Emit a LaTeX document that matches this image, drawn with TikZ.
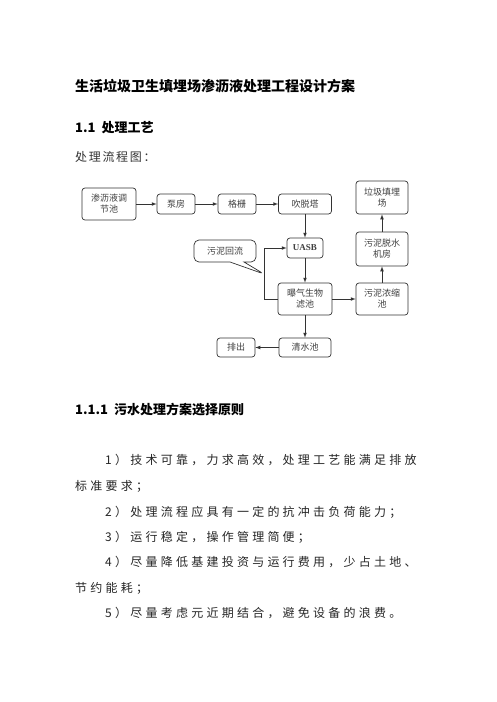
\documentclass[tikz,border=0pt]{standalone}
\usepackage{fontspec}
\setmainfont{Liberation Serif}
\newfontfamily\cjk{Noto Sans CJK SC}
\newfontfamily\cjkwide{Noto Sans CJK SC}[LetterSpace=27]
\newfontfamily\cjkcap{Noto Sans CJK SC}[LetterSpace=14]
\usetikzlibrary{shapes.callouts}

\tikzset{
    box/.style={draw=black!80, rounded corners=3pt, inner sep=0pt, align=center,
        font=\cjk\fontsize{9}{11}\selectfont, text=black!75, line width=0.7pt},
    flow/.style={-latex, draw=black!80, line width=0.7pt},
    heading/.style={anchor=west, inner sep=0pt, font=\cjk\bfseries\fontsize{13}{15}\selectfont},
    bodyline/.style={anchor=west, inner sep=0pt, font=\cjkwide\fontsize{12}{14}\selectfont, text=black!85}
}

\begin{document}
\begin{tikzpicture}[x=1pt, y=-1pt]
            \useasboundingbox (0,0) rectangle (496,702);
            \fill[white] (0,0) rectangle (496,702);

            % headings
            \node[heading, font=\cjk\bfseries\fontsize{14}{16}\selectfont] (title) at (75,86){生活垃圾卫生填埋场渗沥液处理工程设计方案};
            \node[heading] (sec) at (75,128){1.1\ \ 处理工艺};
            \node[anchor=west, inner sep=0pt, font=\cjkcap\fontsize{12}{14}\selectfont, text=black!80] (caption) at (75,157){处理流程图：};

            % flow chart boxes
            \node[box, minimum width=54pt, minimum height=32pt] (tank) at (109,204){渗沥液调\\节池};
            \node[box, minimum width=38pt, minimum height=20pt] (pump) at (176,204){泵房};
            \node[box, minimum width=38pt, minimum height=20pt] (screen) at (237,204){格栅};
            \node[box, minimum width=53pt, minimum height=20pt] (strip) at (305,204){吹脱塔};
            \node[box, minimum width=52pt, minimum height=33pt] (landfill) at (382,197.5){垃圾填埋\\场};
            \node[box, minimum width=36pt, minimum height=20pt, font=\bfseries\fontsize{9}{11}\selectfont] (uasb) at (305,248){UASB};
            \node[box, minimum width=52pt, minimum height=34pt] (dewater) at (382,249){污泥脱水\\机房};
            \node[box, minimum width=54pt, minimum height=32pt] (bio) at (305,299){曝气生物\\滤池};
            \node[box, minimum width=52pt, minimum height=32pt] (thicken) at (382,299){污泥浓缩\\池};
            \node[box, minimum width=52pt, minimum height=19pt] (clear) at (305,347.5){清水池};
            \node[box, minimum width=38pt, minimum height=19pt] (outlet) at (236,347.5){排出};

            % sludge return note
            \coordinate (tip) at (264,274);
            \node[rectangle callout, draw=black!80, rounded corners=5pt, line width=0.7pt,
                callout absolute pointer=(tip), callout pointer width=14pt,
                minimum width=62pt, minimum height=22pt, inner sep=0pt,
                font=\cjk\fontsize{9}{11}\selectfont, text=black!75] (note) at (225,251){污泥回流};

            \draw[flow] (tank) -- (pump);
            \draw[flow] (pump) -- (screen);
            \draw[flow] (screen) -- (strip);
            \draw[flow] (strip) -- (uasb);
            \draw[flow] (uasb) -- (bio);
            \draw[flow] (bio) -- (thicken);
            \draw[flow] (thicken) -- (dewater);
            \draw[flow] (dewater) -- (landfill);
            \draw[flow] (bio) -- (clear);
            \draw[flow] (clear) -- (outlet);
            \draw[flow] (bio.west) -- (264,299) |- (uasb.west);

            % principles
            \node[heading] (subsec) at (75,410){1.1.1\ \ 污水处理方案选择原则};
            \foreach \n/\x/\y/\t in {1/105/460/{1）技术可靠，力求高效，处理工艺能满足排放},
                                     2/75/486/{标准要求；},
                                     3/105/512/{2）处理流程应具有一定的抗冲击负荷能力；},
                                     4/105/537/{3）运行稳定，操作管理简便；},
                                     5/105/562/{4）尽量降低基建投资与运行费用，少占土地、},
                                     6/75/588/{节约能耗；},
                                     7/105/613/{5）尽量考虑元近期结合，避免设备的浪费。}}
                {
                    \node[bodyline] (line\n) at (\x,\y){\t};
                }

        \end{tikzpicture}
\end{document}
